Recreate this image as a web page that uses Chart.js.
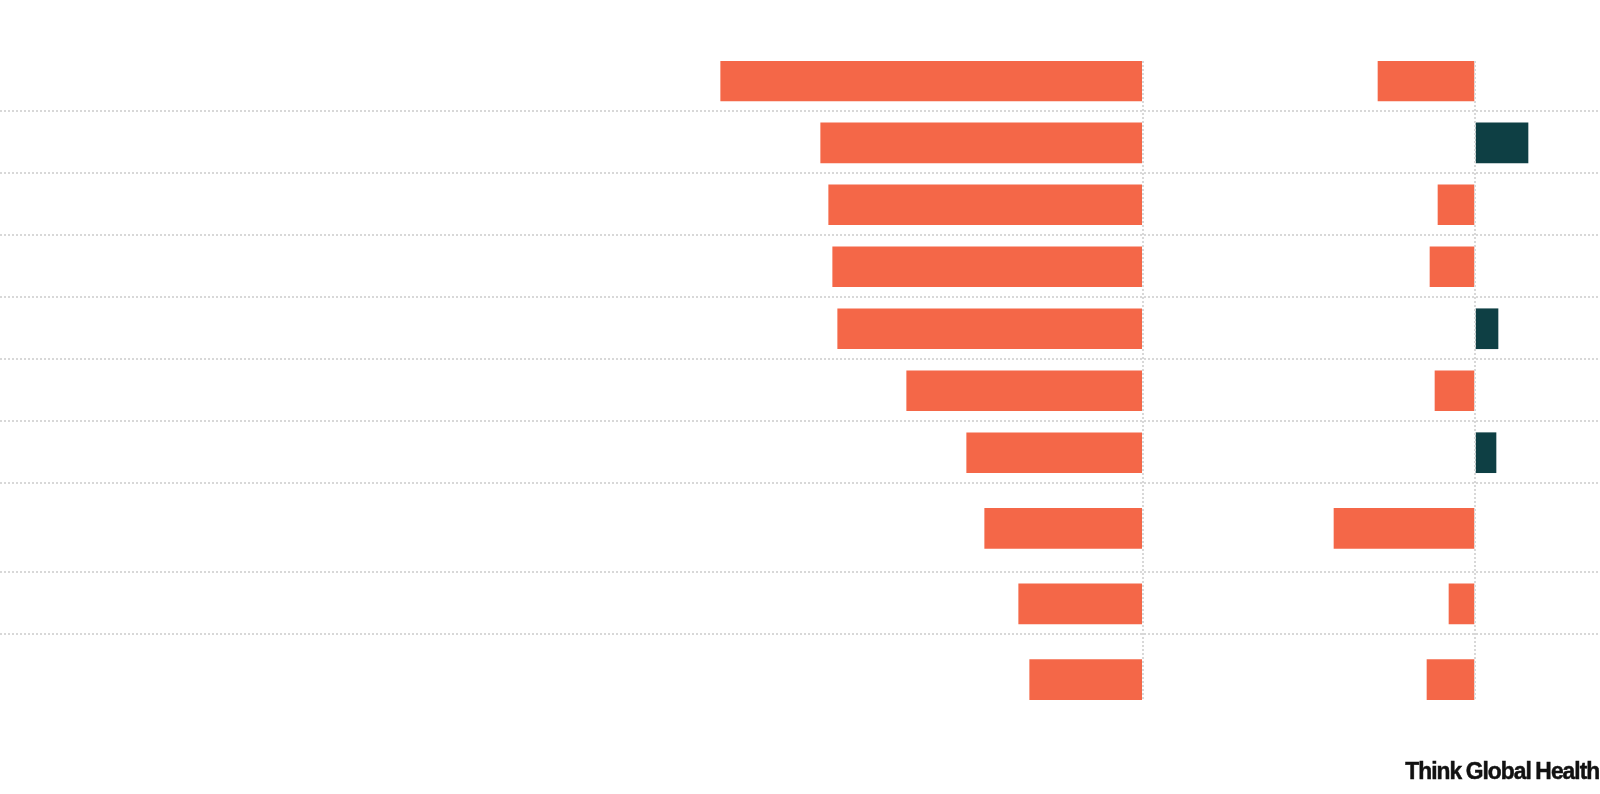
<!DOCTYPE html>
<html>
<head>
<meta charset="utf-8">
<script src="https://cdn.jsdelivr.net/npm/chart.js@4/dist/chart.umd.min.js"></script>
<style>
  html, body { margin: 0; padding: 0; background: #ffffff; }
  #wrap { position: relative; width: 1600px; height: 794px; }
  #brand {
    position: absolute; right: 1px; top: 759px;
    font-family: "Liberation Sans", "Roboto", sans-serif;
    font-weight: 700; font-size: 24px; line-height: 24px;
    letter-spacing: -1px; word-spacing: -1px;
    -webkit-text-stroke: 0.5px #111111;
    transform: scaleX(0.95); transform-origin: right top;
    color: #111111; white-space: nowrap;
  }
</style>
</head>
<body>
<div id="wrap">
  <canvas id="chart" width="1600" height="794"></canvas>
  <div id="brand">Think Global Health</div>
</div>
<script>
// Values for the two columns of split bars (percent change).
const leftValues  = [-42.2, -32.2, -31.4, -31.0, -30.5, -23.6, -17.6, -15.8, -12.4, -11.3];
const rightValues = [ -9.7,   5.3,  -3.7,  -4.5,   2.3,  -4.0,   2.1, -14.1,  -2.6,  -4.8];

// Row layout: relative height of each row (two-line rows are taller).
const rowWeights = [1, 1, 1, 1, 1, 1, 1, 1.44, 1, 1.44];

const NEG = '#f46748';
const POS = '#0e3f44';
const GRID = '#d8d8d8';

// Row boundaries and centres in row units
const bounds = [0];
rowWeights.forEach(w => bounds.push(bounds[bounds.length - 1] + w));
const centres = rowWeights.map((w, i) => bounds[i] + w / 2);
const innerBounds = bounds.slice(1, -1);

const barColour = ctx => (ctx.raw && ctx.raw.x < 0) ? NEG : POS;

const zeroOnlyGrid = {
  display: true,
  drawTicks: false,
  lineWidth: 2,
  z: 1,
  offset: false,
  color: ctx => (ctx.tick && ctx.tick.value === 0) ? GRID : 'rgba(0,0,0,0)'
};

new Chart(document.getElementById('chart'), {
  type: 'bar',
  data: {
    datasets: [
      {
        data: leftValues.map((v, i) => ({ x: v, y: centres[i] })),
        xAxisID: 'xLeft',
        backgroundColor: barColour,
        barThickness: 40,
        grouped: false
      },
      {
        data: rightValues.map((v, i) => ({ x: v, y: centres[i] })),
        xAxisID: 'xRight',
        backgroundColor: barColour,
        barThickness: 40,
        grouped: false
      }
    ]
  },
  options: {
    indexAxis: 'y',
    responsive: false,
    animation: false,
    layout: { padding: { top: 61, bottom: 94, left: 0, right: 0 } },
    plugins: { legend: { display: false }, tooltip: { enabled: false } },
    scales: {
      y: {
        type: 'linear',
        reverse: true,
        offset: false,
        min: 0.18,
        max: 10.49,
        afterBuildTicks: s => { s.ticks = innerBounds.map(v => ({ value: v - 0.015 })); },
        ticks: { display: false },
        grid: { drawTicks: false, offset: false, color: GRID, lineWidth: 2 },
        border: { display: false, dash: [2, 2] }
      },
      xLeft: {
        type: 'linear',
        position: 'bottom',
        min: -114.27,
        max: 45.73,
        afterBuildTicks: s => { s.ticks = [{ value: 0 }]; },
        ticks: { display: false },
        grid: zeroOnlyGrid,
        border: { display: false, dash: [2, 2] }
      },
      xRight: {
        type: 'linear',
        position: 'top',
        min: -147.5,
        max: 12.5,
        afterBuildTicks: s => { s.ticks = [{ value: 0 }]; },
        ticks: { display: false },
        grid: zeroOnlyGrid,
        border: { display: false, dash: [2, 2] }
      }
    }
  }
});
</script>
</body>
</html>
